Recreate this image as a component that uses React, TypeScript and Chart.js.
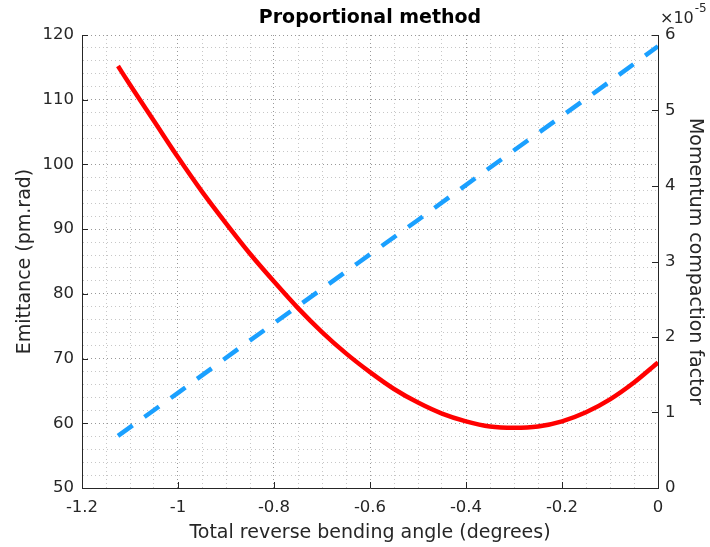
import React, { useEffect, useRef } from "react";
import { Chart, registerables } from "chart.js";

Chart.register(...registerables);

const angleX: number[] = [-1.125, -1.1, -1.05, -1.0, -0.95, -0.9, -0.85, -0.8, -0.75, -0.7, -0.65, -0.6, -0.55, -0.5, -0.45, -0.4, -0.35, -0.3, -0.25, -0.2, -0.15, -0.1, -0.05, 0];
const emittance: number[] = [115.2, 112.3, 106.7, 101.1, 95.8, 90.9, 86.2, 81.9, 77.8, 74.1, 70.8, 67.9, 65.3, 63.2, 61.5, 60.3, 59.5, 59.3, 59.5, 60.3, 61.7, 63.7, 66.3, 69.4];

const alphaX: number[] = [-1.125, -1.0, -0.875, -0.75, -0.625, -0.5, -0.375, -0.25, -0.125, 0];
const alphaVal: number[] = [0.69e-5, 1.26e-5, 1.84e-5, 2.41e-5, 2.98e-5, 3.55e-5, 4.13e-5, 4.70e-5, 5.27e-5, 5.85e-5];

const TITLE = "Proportional method";
const X_LABEL = "Total reverse bending angle (degrees)";
const Y_LABEL = "Emittance (pm.rad)";
const Y2_LABEL = "Momentum compaction factor";
const EXP_BASE = "\u00d710";
const EXP_POW = "-5";

const AXIS = "#262626";
const FONT = "DejaVu Sans";

const isMult = (v: number, s: number) => Math.abs(v / s - Math.round(v / s)) < 1e-6;

const inwardTicks = {
  id: "inwardTicks",
  afterDraw(chart: any) {
    const { ctx, chartArea, scales } = chart;
    const L = 6;
    ctx.save();
    ctx.strokeStyle = AXIS;
    ctx.lineWidth = 1;
    ctx.beginPath();
    scales.x.ticks.forEach((t: any) => {
      if (!isMult(t.value, 0.2)) return;
      const px = Math.round(scales.x.getPixelForValue(t.value)) + 0.5;
      ctx.moveTo(px, chartArea.bottom);
      ctx.lineTo(px, chartArea.bottom - L);
    });
    scales.y.ticks.forEach((t: any) => {
      if (!isMult(t.value, 10)) return;
      const py = Math.round(scales.y.getPixelForValue(t.value)) + 0.5;
      ctx.moveTo(chartArea.left, py);
      ctx.lineTo(chartArea.left + L, py);
    });
    scales.y1.ticks.forEach((t: any) => {
      const py = Math.round(scales.y1.getPixelForValue(t.value)) + 0.5;
      ctx.moveTo(chartArea.right, py);
      ctx.lineTo(chartArea.right - L, py);
    });
    ctx.stroke();
    ctx.fillStyle = AXIS;
    ctx.textBaseline = "middle";
    ctx.textAlign = "left";
    ctx.font = `16px "${FONT}"`;
    const x0 = chartArea.right + 2;
    ctx.fillText(EXP_BASE, x0, 19);
    const w = ctx.measureText(EXP_BASE).width;
    ctx.font = `12px "${FONT}"`;
    ctx.fillText(EXP_POW, x0 + w + 1, 9);
    ctx.restore();
  },
};

export default function App() {
  const ref = useRef<HTMLCanvasElement | null>(null);
  useEffect(() => {
    if (!ref.current) return;
    Chart.defaults.font.family = FONT;
    const gridColor = (c: any, step: number) =>
      c.tick && isMult(c.tick.value, step) ? "rgba(0,0,0,0.4)" : "rgba(0,0,0,0.22)";
    const chart = new Chart(ref.current, {
      type: "line",
      data: {
        datasets: [
          {
            label: "Emittance",
            data: angleX.map((x, i) => ({ x, y: emittance[i] })),
            borderColor: "#ff0000",
            borderWidth: 4.5,
            pointRadius: 0,
            cubicInterpolationMode: "monotone",
            yAxisID: "y",
            order: 1,
          },
          {
            label: "Momentum compaction factor",
            data: alphaX.map((x, i) => ({ x, y: alphaVal[i] })),
            borderColor: "rgb(26,160,255)",
            borderWidth: 4.5,
            borderDash: [18, 14.5],
            pointRadius: 0,
            yAxisID: "y1",
            order: 2,
          },
        ],
      },
      options: {
        animation: false,
        responsive: false,
        layout: { padding: 0 },
        plugins: {
          legend: { display: false },
          tooltip: { enabled: false },
          title: {
            display: true,
            text: TITLE,
            fullSize: false,
            color: "#000",
            font: { size: 19, weight: "bold", lineHeight: 1.0 },
            padding: { top: 9, bottom: 7 },
          },
        },
        scales: {
          x: {
            type: "linear",
            min: -1.2,
            max: 0,
            afterFit: (s: any) => { s.height = 59; },
            ticks: {
              stepSize: 0.05,
              autoSkip: false,
              maxTicksLimit: 100,
              maxRotation: 0,
              color: AXIS,
              padding: 10,
              font: { size: 16.5 },
              callback: (v: any) => {
                const n = Number(v);
                if (!isMult(n, 0.2)) return "";
                const r = Number(n.toFixed(1));
                return r === 0 ? "0" : String(r);
              },
            },
            grid: { drawTicks: false, color: (c: any) => gridColor(c, 0.2), lineWidth: 1 },
            border: { display: true, color: AXIS, width: 1, dash: [1, 3] },
            title: { display: true, text: X_LABEL, color: AXIS, font: { size: 19 }, padding: { top: 0, bottom: 3 } },
          },
          y: {
            type: "linear",
            position: "left",
            min: 50,
            max: 120,
            afterFit: (s: any) => { s.width = 82; },
            ticks: {
              stepSize: 2,
              autoSkip: false,
              maxTicksLimit: 100,
              color: AXIS,
              padding: 8,
              font: { size: 16.5 },
              callback: (v: any) => (isMult(Number(v), 10) ? String(Math.round(Number(v))) : ""),
            },
            grid: { drawTicks: false, color: (c: any) => gridColor(c, 10), lineWidth: 1 },
            border: { display: true, color: AXIS, width: 1, dash: [1, 3] },
            title: { display: true, text: Y_LABEL, color: AXIS, font: { size: 19 }, padding: { top: 14, bottom: 0 } },
          },
          y1: {
            type: "linear",
            position: "right",
            min: 0,
            max: 6e-5,
            afterFit: (s: any) => { s.width = 52; },
            ticks: {
              stepSize: 1e-5,
              autoSkip: false,
              color: AXIS,
              padding: 7,
              font: { size: 16.5 },
              callback: (v: any) => String(Math.round(Number(v) * 1e5)),
            },
            grid: { drawTicks: false, drawOnChartArea: false },
            border: { display: true, color: AXIS, width: 1 },
            title: { display: true, text: Y2_LABEL, color: AXIS, font: { size: 19 }, padding: { top: 4, bottom: 0 } },
          },
        },
      },
      plugins: [inwardTicks],
    } as any);
    return () => chart.destroy();
  }, []);
  return (
    <div style={{ position: "absolute", left: 0, top: 0, width: 710, height: 547, background: "#fff" }}>
      <canvas ref={ref} width={710} height={547} />
    </div>
  );
}
